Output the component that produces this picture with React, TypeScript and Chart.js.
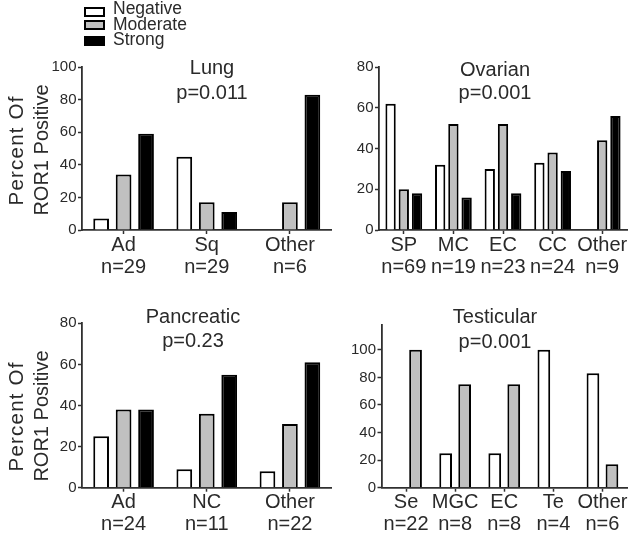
import React, { useEffect, useRef } from "react";
import { Chart, registerables } from "chart.js";

Chart.register(...registerables);

// ---------- data ----------
const seriesNames = ["Negative", "Moderate", "Strong"];
const seriesColors = ["#ffffff", "#c0c0c0", "#000000"];

const lungCategories = [["Ad", "n=29"], ["Sq", "n=29"], ["Other", "n=6"]];
const lungNegative = [7, 45, 0];
const lungModerate = [34, 17, 17];
const lungStrong = [59, 11, 83];
const lungYTicks = [0, 20, 40, 60, 80, 100];

const ovarianCategories = [["SP", "n=69"], ["MC", "n=19"], ["EC", "n=23"], ["CC", "n=24"], ["Other", "n=9"]];
const ovarianNegative = [62, 32, 30, 33, 0];
const ovarianModerate = [20, 52, 52, 38, 44];
const ovarianStrong = [18, 16, 18, 29, 56];
const ovarianYTicks = [0, 20, 40, 60, 80];

const pancreaticCategories = [["Ad", "n=24"], ["NC", "n=11"], ["Other", "n=22"]];
const pancreaticNegative = [25, 9, 8];
const pancreaticModerate = [38, 36, 31];
const pancreaticStrong = [38, 55, 61];
const pancreaticYTicks = [0, 20, 40, 60, 80];

const testicularCategories = [["Se", "n=22"], ["MGC", "n=8"], ["EC", "n=8"], ["Te", "n=4"], ["Other", "n=6"]];
const testicularNegative = [0, 25, 25, 100, 83];
const testicularModerate = [100, 75, 75, 0, 17];
const testicularYTicks = [0, 20, 40, 60, 80, 100];

const yAxisTitle = ["Percent Of", "ROR1 Positive"];

// ---------- style ----------
const FONT = "'Liberation Sans', Arial, Helvetica, sans-serif";
const TEXT = "#2a2a2a";
const AXIS = "#303030";
const WY = 30;
const HX = 45;

type Rect = { x: number; y: number; w: number; h: number };
type Area = { l: number; t: number; r: number; b: number };
type TextItem = { text: string; x: number; y: number; rotate?: boolean; size: number; spacing?: number };

type PanelCfg = {
  canvas: Rect;
  area: Area;
  categories: string[][];
  series: number[][];
  yMax: number;
  yTicks: number[];
  catPct: number;
  barPct: number;
  texts: TextItem[];
};

const panelTextPlugin = {
  id: "panelText",
  afterDraw(chart: any, _args: any, opts: any) {
    const ctx = chart.ctx as CanvasRenderingContext2D;
    const items: TextItem[] = opts.items || [];
    const ox = opts.ox || 0;
    const oy = opts.oy || 0;
    items.forEach((it) => {
      ctx.save();
      ctx.fillStyle = TEXT;
      ctx.font = `${it.size}px ${FONT}`;
      ctx.textAlign = "center";
      ctx.textBaseline = "middle";
      if (it.spacing) (ctx as any).letterSpacing = `${it.spacing}px`;
      ctx.translate(it.x - ox, it.y - oy);
      if (it.rotate) ctx.rotate(-Math.PI / 2);
      ctx.fillText(it.text, it.spacing ? it.spacing / 2 : 0, 0);
      ctx.restore();
    });
  },
};

function titleItems(x: number, y1: number, y2: number, name: string, p: string): TextItem[] {
  return [
    { text: name, x, y: y1, size: 20 },
    { text: p, x, y: y2, size: 20 },
  ];
}

function yTitleItems(yc: number): TextItem[] {
  return [
    { text: yAxisTitle[0], x: 17, y: yc + 1, rotate: true, size: 20.5, spacing: 1.2 },
    { text: yAxisTitle[1], x: 42, y: yc, rotate: true, size: 20 },
  ];
}

const panels: PanelCfg[] = [
  {
    canvas: { x: 0, y: 0, w: 345, h: 292 },
    area: { l: 82, t: 67, r: 331.5, b: 230 },
    categories: lungCategories,
    series: [lungNegative, lungModerate, lungStrong],
    yMax: 100,
    yTicks: lungYTicks,
    catPct: 0.81,
    barPct: 0.7,
    texts: [...titleItems(212, 68, 93, "Lung", "p=0.011"), ...yTitleItems(150)],
  },
  {
    canvas: { x: 345, y: 0, w: 285, h: 292 },
    area: { l: 379, t: 67, r: 627, b: 230 },
    categories: ovarianCategories,
    series: [ovarianNegative, ovarianModerate, ovarianStrong],
    yMax: 80,
    yTicks: ovarianYTicks,
    catPct: 0.8,
    barPct: 0.78,
    texts: [...titleItems(495, 70, 93, "Ovarian", "p=0.001")],
  },
  {
    canvas: { x: 0, y: 292, w: 345, h: 244 },
    area: { l: 82, t: 323.3, r: 331.5, b: 487.7 },
    categories: pancreaticCategories,
    series: [pancreaticNegative, pancreaticModerate, pancreaticStrong],
    yMax: 80,
    yTicks: pancreaticYTicks,
    catPct: 0.81,
    barPct: 0.7,
    texts: [...titleItems(193, 317, 341, "Pancreatic", "p=0.23"), ...yTitleItems(416)],
  },
  {
    canvas: { x: 345, y: 292, w: 285, h: 244 },
    area: { l: 381.5, t: 325, r: 627, b: 487.7 },
    categories: testicularCategories,
    series: [testicularNegative, testicularModerate],
    yMax: 118,
    yTicks: testicularYTicks,
    catPct: 0.774,
    barPct: 0.67,
    texts: [...titleItems(495, 317, 342, "Testicular", "p=0.001")],
  },
];

function Panel({ cfg }: { cfg: PanelCfg }) {
  const ref = useRef<HTMLCanvasElement>(null);
  useEffect(() => {
    const { canvas: cv, area } = cfg;
    const chart = new Chart(ref.current as HTMLCanvasElement, {
      type: "bar",
      data: {
        labels: cfg.categories,
        datasets: cfg.series.map((d, i) => ({
          label: seriesNames[i],
          data: d,
          backgroundColor: seriesColors[i],
          borderColor: "#000000",
          borderWidth: 2,
          borderSkipped: "start",
          categoryPercentage: cfg.catPct,
          barPercentage: cfg.barPct,
        })),
      },
      options: {
        animation: false,
        responsive: false,
        devicePixelRatio: 1,
        layout: {
          padding: {
            left: area.l - cv.x - WY,
            top: area.t - cv.y,
            right: cv.x + cv.w - area.r,
            bottom: cv.y + cv.h - area.b - HX,
          },
        },
        plugins: {
          legend: { display: false },
          tooltip: { enabled: false },
          // @ts-ignore
          panelText: { items: cfg.texts, ox: cv.x, oy: cv.y },
        },
        scales: {
          x: {
            type: "category",
            grid: {
              offset: false,
              drawOnChartArea: false,
              drawTicks: true,
              tickLength: 4,
              tickColor: AXIS,
              tickWidth: 1.5,
            },
            border: { display: true, color: AXIS, width: 1.8 },
            ticks: {
              autoSkip: false,
              maxRotation: 0,
              minRotation: 0,
              padding: 0,
              color: TEXT,
              font: { family: FONT, size: 20, lineHeight: 1.1 },
            },
            afterFit: (s: any) => {
              s.height = HX;
            },
          },
          y: {
            type: "linear",
            min: 0,
            max: cfg.yMax,
            grid: {
              drawOnChartArea: false,
              drawTicks: true,
              tickLength: 4,
              tickColor: AXIS,
              tickWidth: 1.5,
            },
            border: { display: true, color: AXIS, width: 1.8 },
            ticks: {
              padding: 1.5,
              color: TEXT,
              font: { family: FONT, size: 15 },
            },
            afterBuildTicks: (s: any) => {
              s.ticks = cfg.yTicks.map((v) => ({ value: v }));
            },
            afterFit: (s: any) => {
              s.width = WY;
            },
          },
        },
      },
      plugins: [panelTextPlugin],
    });
    return () => chart.destroy();
  }, [cfg]);
  const { canvas: cv } = cfg;
  return (
    <canvas
      ref={ref}
      width={cv.w}
      height={cv.h}
      style={{ position: "absolute", left: cv.x, top: cv.y, width: cv.w, height: cv.h }}
    />
  );
}

const legendRows = [
  { boxTop: 7, textTop: 0 },
  { boxTop: 20, textTop: 16 },
  { boxTop: 36, textTop: 31 },
];

export default function App() {
  return (
    <div style={{ position: "absolute", left: 0, top: 0, width: 630, height: 536, background: "#ffffff" }}>
      {panels.map((p, i) => (
        <Panel key={i} cfg={p} />
      ))}
      {seriesNames.map((name, i) => (
        <React.Fragment key={name}>
          <div
            style={{
              position: "absolute",
              left: 84,
              top: legendRows[i].boxTop,
              width: 21,
              height: 9.5,
              boxSizing: "border-box",
              border: "2px solid #000",
              background: seriesColors[i],
            }}
          />
          <div
            style={{
              position: "absolute",
              left: 113,
              top: legendRows[i].textTop,
              fontFamily: FONT,
              fontSize: 17.5,
              lineHeight: "17.5px",
              color: TEXT,
              whiteSpace: "nowrap",
            }}
          >
            {name}
          </div>
        </React.Fragment>
      ))}
    </div>
  );
}
